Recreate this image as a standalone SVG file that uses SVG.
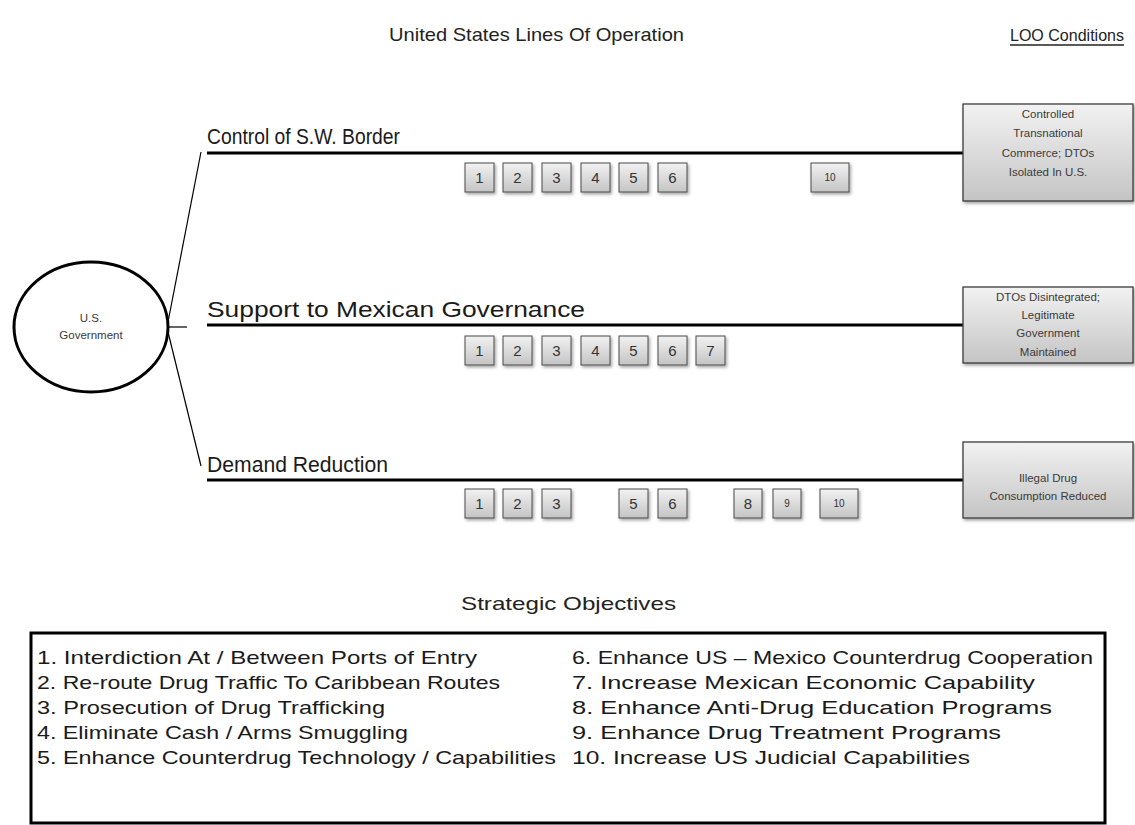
<svg xmlns="http://www.w3.org/2000/svg" width="1135" height="825" viewBox="0 0 1135 825">
  <defs>
    <linearGradient id="boxFill" x1="0" y1="0" x2="0" y2="1">
      <stop offset="0" stop-color="#f2f2f2"/>
      <stop offset="1" stop-color="#c4c4c4"/>
    </linearGradient>
    <filter id="shadow" x="-10%" y="-10%" width="130%" height="130%">
      <feDropShadow dx="1.5" dy="2" stdDeviation="1.5" flood-color="#000" flood-opacity="0.35"/>
    </filter>
    <style>
      .heading { font-family: "Liberation Sans", Arial, sans-serif; font-size: 19px; fill: #222; }
      .heading-sm { font-family: "Liberation Sans", Arial, sans-serif; font-size: 16px; fill: #222; }
      .loo { font-family: "Liberation Sans", Arial, sans-serif; font-size: 22px; fill: #1a1a1a; }
      .cond { font-family: "Liberation Sans", Arial, sans-serif; font-size: 11.5px; fill: #3a3a3a; text-anchor: middle; }
      .num { font-family: "Liberation Sans", Arial, sans-serif; font-size: 15px; fill: #333; text-anchor: middle; }
      .numsm { font-family: "Liberation Sans", Arial, sans-serif; font-size: 10px; fill: #333; text-anchor: middle; }
      .obj { font-family: "Liberation Sans", Arial, sans-serif; font-size: 19px; fill: #1a1a1a; }
      .box { fill: url(#boxFill); stroke: #3c3c3c; stroke-width: 1.3; filter: url(#shadow); }
      .sq { fill: url(#boxFill); stroke: #4a4a4a; stroke-width: 1; filter: url(#shadow); }
      .lineop { stroke: #000; stroke-width: 3; fill: none; }
      .thin { stroke: #000; stroke-width: 1.2; fill: none; }
    </style>
  </defs>

  <rect x="0" y="0" width="1135" height="825" fill="#fff"/>

  <!-- headings -->
  <text class="heading" x="389" y="41" textLength="295" lengthAdjust="spacingAndGlyphs">United States Lines Of Operation</text>
  <text class="heading-sm" x="1010" y="41" textLength="114" lengthAdjust="spacingAndGlyphs">LOO Conditions</text>
  <line x1="1010" y1="45" x2="1124" y2="45" stroke="#222" stroke-width="1.3"/>
  <text class="heading" x="461" y="610" textLength="215" lengthAdjust="spacingAndGlyphs">Strategic Objectives</text>

  <!-- central node -->
  <g id="us-government">
    <ellipse cx="91" cy="327" rx="77" ry="65" fill="#fff" stroke="#000" stroke-width="3"/>
    <text class="cond" x="91" y="322" fill="#444">U.S.</text>
    <text class="cond" x="91" y="339" fill="#444">Government</text>
  </g>

  <!-- connectors from the central node to each line of operation -->
  <g id="connectors">
    <line class="thin" x1="168" y1="322" x2="201" y2="152"/>
    <line class="thin" x1="168" y1="327" x2="187" y2="327"/>
    <line class="thin" x1="168" y1="332" x2="201" y2="466"/>
    <line class="lineop" x1="207" y1="153" x2="963" y2="153"/>
    <line class="lineop" x1="207" y1="325" x2="963" y2="325"/>
    <line class="lineop" x1="207" y1="480" x2="963" y2="480"/>
  </g>

  <!-- line of operation labels -->
  <g id="loo-border">
    <text class="loo" x="207" y="144" textLength="193" lengthAdjust="spacingAndGlyphs">Control of S.W. Border</text>
  </g>
  <g id="loo-governance">
    <text class="loo" x="207" y="317" textLength="378" lengthAdjust="spacingAndGlyphs">Support to Mexican Governance</text>
  </g>
  <g id="loo-demand">
    <text class="loo" x="207" y="472" textLength="181" lengthAdjust="spacingAndGlyphs">Demand Reduction</text>
  </g>

  <!-- condition boxes -->
  <g id="cond-border">
    <rect class="box" x="963" y="104" width="170" height="97"/>
    <text class="cond" x="1048" y="118">Controlled</text>
    <text class="cond" x="1048" y="137">Transnational</text>
    <text class="cond" x="1048" y="157">Commerce; DTOs</text>
    <text class="cond" x="1048" y="176">Isolated In U.S.</text>
  </g>
  <g id="cond-governance">
    <rect class="box" x="963" y="287" width="170" height="76"/>
    <text class="cond" x="1048" y="301">DTOs Disintegrated;</text>
    <text class="cond" x="1048" y="319">Legitimate</text>
    <text class="cond" x="1048" y="337">Government</text>
    <text class="cond" x="1048" y="356">Maintained</text>
  </g>
  <g id="cond-demand">
    <rect class="box" x="963" y="442" width="170" height="76"/>
    <text class="cond" x="1048" y="482">Illegal Drug</text>
    <text class="cond" x="1048" y="500">Consumption Reduced</text>
  </g>

  <!-- objective markers: Control of S.W. Border -->
  <g id="marks-border">
    <rect class="sq" x="465" y="163" width="29" height="29"/><text class="num" x="479.5" y="183">1</text>
    <rect class="sq" x="503" y="163" width="29" height="29"/><text class="num" x="517.5" y="183">2</text>
    <rect class="sq" x="542" y="163" width="29" height="29"/><text class="num" x="556.5" y="183">3</text>
    <rect class="sq" x="581" y="163" width="29" height="29"/><text class="num" x="595.5" y="183">4</text>
    <rect class="sq" x="619" y="163" width="29" height="29"/><text class="num" x="633.5" y="183">5</text>
    <rect class="sq" x="658" y="163" width="29" height="29"/><text class="num" x="672.5" y="183">6</text>
    <rect class="sq" x="811" y="163" width="38" height="29"/><text class="numsm" x="830" y="181">10</text>
  </g>

  <!-- objective markers: Support to Mexican Governance -->
  <g id="marks-governance">
    <rect class="sq" x="465" y="336" width="29" height="29"/><text class="num" x="479.5" y="356">1</text>
    <rect class="sq" x="503" y="336" width="29" height="29"/><text class="num" x="517.5" y="356">2</text>
    <rect class="sq" x="542" y="336" width="29" height="29"/><text class="num" x="556.5" y="356">3</text>
    <rect class="sq" x="581" y="336" width="29" height="29"/><text class="num" x="595.5" y="356">4</text>
    <rect class="sq" x="619" y="336" width="29" height="29"/><text class="num" x="633.5" y="356">5</text>
    <rect class="sq" x="658" y="336" width="29" height="29"/><text class="num" x="672.5" y="356">6</text>
    <rect class="sq" x="696" y="336" width="29" height="29"/><text class="num" x="710.5" y="356">7</text>
  </g>

  <!-- objective markers: Demand Reduction -->
  <g id="marks-demand">
    <rect class="sq" x="465" y="489" width="29" height="29"/><text class="num" x="479.5" y="509">1</text>
    <rect class="sq" x="503" y="489" width="29" height="29"/><text class="num" x="517.5" y="509">2</text>
    <rect class="sq" x="542" y="489" width="29" height="29"/><text class="num" x="556.5" y="509">3</text>
    <rect class="sq" x="619" y="489" width="29" height="29"/><text class="num" x="633.5" y="509">5</text>
    <rect class="sq" x="658" y="489" width="29" height="29"/><text class="num" x="672.5" y="509">6</text>
    <rect class="sq" x="734" y="489" width="28" height="29"/><text class="num" x="748" y="509">8</text>
    <rect class="sq" x="773" y="489" width="28" height="29"/><text class="numsm" x="787" y="507">9</text>
    <rect class="sq" x="820" y="489" width="38" height="29"/><text class="numsm" x="839" y="507">10</text>
  </g>

  <!-- strategic objectives legend -->
  <g id="objectives">
    <rect x="31" y="633" width="1074" height="190" fill="#fff" stroke="#000" stroke-width="3"/>
    <text class="obj" x="37" y="664" textLength="440" lengthAdjust="spacingAndGlyphs">1. Interdiction At / Between Ports of Entry</text>
    <text class="obj" x="37" y="689" textLength="463" lengthAdjust="spacingAndGlyphs">2. Re-route Drug Traffic To Caribbean Routes</text>
    <text class="obj" x="37" y="714" textLength="348" lengthAdjust="spacingAndGlyphs">3. Prosecution of Drug Trafficking</text>
    <text class="obj" x="37" y="739" textLength="371" lengthAdjust="spacingAndGlyphs">4. Eliminate Cash / Arms Smuggling</text>
    <text class="obj" x="37" y="764" textLength="519" lengthAdjust="spacingAndGlyphs">5. Enhance Counterdrug Technology / Capabilities</text>
    <text class="obj" x="572" y="664" textLength="521" lengthAdjust="spacingAndGlyphs">6. Enhance US – Mexico Counterdrug Cooperation</text>
    <text class="obj" x="572" y="689" textLength="463" lengthAdjust="spacingAndGlyphs">7. Increase Mexican Economic Capability</text>
    <text class="obj" x="572" y="714" textLength="480" lengthAdjust="spacingAndGlyphs">8. Enhance Anti-Drug Education Programs</text>
    <text class="obj" x="572" y="739" textLength="429" lengthAdjust="spacingAndGlyphs">9. Enhance Drug Treatment Programs</text>
    <text class="obj" x="572" y="764" textLength="398" lengthAdjust="spacingAndGlyphs">10. Increase US Judicial Capabilities</text>
  </g>
</svg>
